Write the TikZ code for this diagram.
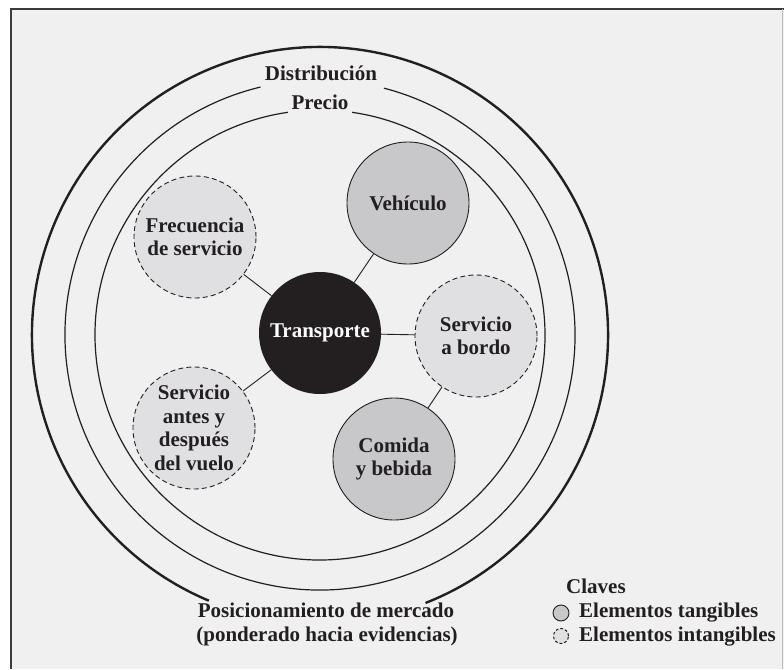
\documentclass[tikz,border=0pt]{standalone}
\usepackage{fontspec}
\setmainfont{Liberation Serif}
\definecolor{ink}{HTML}{231F20}
\definecolor{bgc}{HTML}{F0F0F0}
\definecolor{tang}{HTML}{C8C8CA}
\definecolor{intang}{HTML}{E0E0E2}
\definecolor{framec}{HTML}{3C3C3C}
\tikzset{
  lbl/.style={font=\fontsize{21}{24}\selectfont\bfseries, text=ink, inner sep=0pt},
  bubble/.style={circle, minimum size=122pt, inner sep=0pt, align=center,
    font=\fontsize{21}{23.5}\selectfont\bfseries, text=ink},
  tangible/.style={bubble, fill=tang, draw=ink, line width=0.9pt},
  intangible/.style={bubble, fill=intang, draw=ink, line width=0.9pt, dash pattern=on 5pt off 3.2pt},
  core/.style={bubble, fill=ink, text=white},
  link/.style={draw=ink, line width=0.9pt},
  ring/.style={draw=ink, line width=1.2pt},
}
\begin{document}
\begin{tikzpicture}[x=1pt,y=1pt]
\useasboundingbox (0,0) rectangle (784,-669);
\fill[white] (0,0) rectangle (784,-669);
\fill[bgc] (11,-9) rectangle (784,-669);
\draw[framec, line width=1.6pt] (11,-669) -- (11,-9) -- (784,-9);
\draw[black!25, line width=1pt] (782,-9) -- (782,-669);

\coordinate (c) at (320,-335);
% rings
\draw[ink, line width=2.4pt] (c) ++(-68.5:288pt) arc[start angle=-68.5, end angle=247.3, radius=288pt];
\draw[ring] (c) ++(103.5:255pt) arc[start angle=103.5, end angle=435.5, radius=255pt];
\draw[ring] (c) ++(98.2:225pt) arc[start angle=98.2, end angle=441.8, radius=225pt];

\node[lbl, anchor=base] (dist) at (321,-81) {Distribución};
\node[lbl, anchor=base] (prec) at (320,-109) {Precio};

% bubbles
\node[core] (tr) at (320,-333) {Transporte};
\node[intangible] (fr) at (195,-237) {Frecuencia\\de servicio};
\node[intangible] (av) at (194,-428) {Servicio\\antes y\\después\\del vuelo};
\node[tangible] (ve) at (408,-203) {Vehículo};
\node[intangible] (sb) at (476,-336) {Servicio\\a bordo};
\node[tangible] (cb) at (394,-459) {Comida\\y bebida};

\draw[link] (tr) -- (fr);
\draw[link] (tr) -- (av);
\draw[link] (tr) -- (ve);
\draw[link] (tr) -- (sb);
\draw[link] (sb) -- (cb);

% bottom label
\node[lbl, anchor=base] (pos1) at (326,-617) {Posicionamiento de mercado};
\node[lbl, anchor=base] (pos2) at (327,-641) {(ponderado hacia evidencias)};

% legend
\node[lbl, anchor=base west] (clav) at (566,-593) {Claves};
\node[circle, minimum size=16pt, inner sep=0pt, fill=tang, draw=ink, line width=0.9pt] (kt) at (561,-613) {};
\node[lbl, anchor=base west] (ktl) at (579,-617) {Elementos tangibles};
\node[circle, minimum size=15pt, inner sep=0pt, fill=intang, draw=ink, line width=1pt, dash pattern=on 2.8pt off 2pt] (ki) at (561,-636) {};
\node[lbl, anchor=base west] (kil) at (579,-641) {Elementos intangibles};
\end{tikzpicture}
\end{document}
